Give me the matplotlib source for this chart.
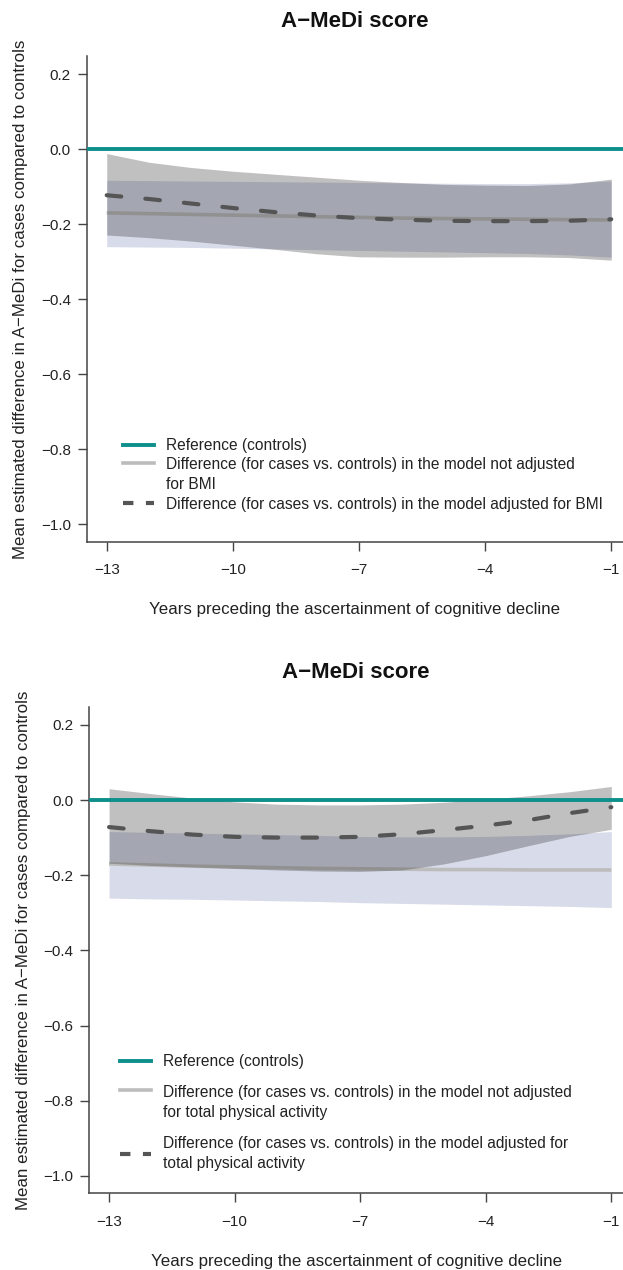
import numpy as np
import matplotlib
matplotlib.use("Agg")
import matplotlib.pyplot as plt
from matplotlib.lines import Line2D
from matplotlib.offsetbox import HPacker, TextArea

plt.rcParams['font.family'] = ['Liberation Sans', 'DejaVu Sans']

# years before ascertainment of cognitive decline
years = [-13, -12, -11, -10, -9, -8, -7, -6, -5, -4, -3, -2, -1]

# panel 1: model not adjusted vs adjusted for BMI
p1_noadj = [-0.170, -0.172, -0.174, -0.176, -0.178, -0.180, -0.182, -0.184, -0.185, -0.186, -0.187, -0.188, -0.189]
p1_noadj_hi = [-0.083, -0.084, -0.085, -0.086, -0.087, -0.088, -0.089, -0.090, -0.091, -0.092, -0.092, -0.090, -0.085]
p1_noadj_lo = [-0.260, -0.261, -0.262, -0.264, -0.266, -0.268, -0.270, -0.272, -0.274, -0.276, -0.278, -0.282, -0.288]
p1_adj = [-0.123, -0.133, -0.145, -0.157, -0.168, -0.177, -0.184, -0.188, -0.191, -0.192, -0.192, -0.191, -0.187]
p1_adj_hi = [-0.012, -0.035, -0.049, -0.059, -0.067, -0.075, -0.083, -0.089, -0.094, -0.096, -0.097, -0.093, -0.080]
p1_adj_lo = [-0.229, -0.236, -0.245, -0.256, -0.267, -0.279, -0.287, -0.288, -0.288, -0.287, -0.287, -0.289, -0.296]

# panel 2: model not adjusted vs adjusted for total physical activity
p2_noadj = [-0.170, -0.173, -0.176, -0.178, -0.180, -0.182, -0.183, -0.184, -0.185, -0.185, -0.186, -0.186, -0.186]
p2_noadj_hi = [-0.084, -0.086, -0.088, -0.090, -0.092, -0.094, -0.097, -0.098, -0.098, -0.097, -0.094, -0.090, -0.084]
p2_noadj_lo = [-0.261, -0.263, -0.264, -0.266, -0.268, -0.270, -0.273, -0.275, -0.277, -0.279, -0.281, -0.283, -0.286]
p2_adj = [-0.072, -0.083, -0.092, -0.098, -0.100, -0.100, -0.098, -0.091, -0.080, -0.068, -0.054, -0.035, -0.019]
p2_adj_hi = [0.030, 0.017, 0.005, -0.005, -0.011, -0.013, -0.013, -0.011, -0.006, 0.002, 0.011, 0.022, 0.036]
p2_adj_lo = [-0.168, -0.174, -0.178, -0.182, -0.186, -0.189, -0.190, -0.186, -0.170, -0.148, -0.122, -0.097, -0.078]

xticks = [-13, -10, -7, -4, -1]
yticks = [0.2, 0.0, -0.2, -0.4, -0.6, -0.8, -1.0]

TEAL = "#0e8f8b"
AXCOL = "#444444"
DASHCOL = "#555555"
GREYLINE = "#bcbcbc"

panels = [
    dict(rect=[0.1396, 0.5735, 0.8604, 0.3824],
         noadj=p1_noadj, noadj_hi=p1_noadj_hi, noadj_lo=p1_noadj_lo,
         adj=p1_adj, adj_hi=p1_adj_hi, adj_lo=p1_adj_lo,
         lab_no="Difference (for cases vs. controls) in the model not adjusted\nfor BMI",
         lab_adj="Difference (for cases vs. controls) in the model adjusted for BMI",
         leg_xy=(0.067, 0.213), labelspacing=0.27, linespacing=1.42),
    dict(rect=[0.1435, 0.0604, 0.8565, 0.3831],
         noadj=p2_noadj, noadj_hi=p2_noadj_hi, noadj_lo=p2_noadj_lo,
         adj=p2_adj, adj_hi=p2_adj_hi, adj_lo=p2_adj_lo,
         lab_no="Difference (for cases vs. controls) in the model not adjusted\nfor total physical activity",
         lab_adj="Difference (for cases vs. controls) in the model adjusted for\ntotal physical activity",
         leg_xy=(0.057, 0.286), labelspacing=1.0, linespacing=1.46),
]

fig = plt.figure(figsize=(6.23, 12.7), dpi=100)

for p in panels:
    ax = fig.add_axes(p["rect"])
    ax.fill_between(years, p["noadj_lo"], p["noadj_hi"], color="#d8dbe9", lw=0, zorder=1)
    ax.plot(years, p["noadj"], color=GREYLINE, lw=2.6, zorder=2, solid_capstyle="butt")
    ax.fill_between(years, p["adj_lo"], p["adj_hi"], color="#282828", alpha=0.29, lw=0, zorder=3)
    ax.plot(years, p["adj"], color=DASHCOL, lw=3.0, ls=(0, (3.5, 5.8)),
            dash_capstyle="round", zorder=4)
    ax.axhline(0, color=TEAL, lw=2.8, zorder=5)

    ax.set_xlim(-13.47, -0.72)
    ax.set_ylim(-1.046, 0.248)
    ax.set_xticks(xticks)
    ax.set_yticks(yticks)
    ax.set_yticklabels([f"{v:.1f}".replace("-", "\u2212") for v in yticks])
    ax.set_xticklabels([str(v).replace("-", "\u2212") for v in xticks])
    for s in ["top", "right"]:
        ax.spines[s].set_visible(False)
    for s in ["left", "bottom"]:
        ax.spines[s].set_color(AXCOL)
        ax.spines[s].set_linewidth(1.1)
    ax.tick_params(axis="both", colors=AXCOL, labelcolor="#222222", labelsize=11,
                   length=6.5, width=1.0)
    ax.tick_params(axis="x", pad=9)
    ax.tick_params(axis="y", pad=5)

    ax.set_title("A\u2212MeDi score", fontsize=16, fontweight="bold", pad=21, color="#111111")
    ax.set_ylabel("Mean estimated difference in A\u2212MeDi for cases compared to controls",
                  fontsize=12.2, color="#222222", labelpad=9)
    ax.set_xlabel("Years preceding the ascertainment of cognitive decline",
                  fontsize=12.2, color="#222222", labelpad=18)

    # legend keys (the dashed key uses a shorter dash so two dashes show)
    keys = [Line2D([], [], color=TEAL, lw=2.8),
            Line2D([], [], color=GREYLINE, lw=2.6),
            Line2D([], [], color=DASHCOL, lw=3.0, ls=(0, (2.5, 3.0)))]
    labels = ["Reference (controls)", p["lab_no"], p["lab_adj"]]
    leg = ax.legend(keys, labels, loc="upper left", bbox_to_anchor=p["leg_xy"], frameon=False,
                    fontsize=11.2, borderpad=0, borderaxespad=0, handlelength=2.0,
                    handletextpad=0.8, labelspacing=p["labelspacing"], labelcolor="#222222")
    for t in leg.get_texts():
        t.set_linespacing(p["linespacing"])
    # align the "not adjusted" key with the first line of its label
    for hp in leg.findobj(HPacker):
        kids = hp.get_children()
        if len(kids) == 2 and isinstance(kids[1], TextArea) and "not adjusted" in kids[1].get_text():
            hp.align = "top"

fig.savefig("out.png", dpi=100)
